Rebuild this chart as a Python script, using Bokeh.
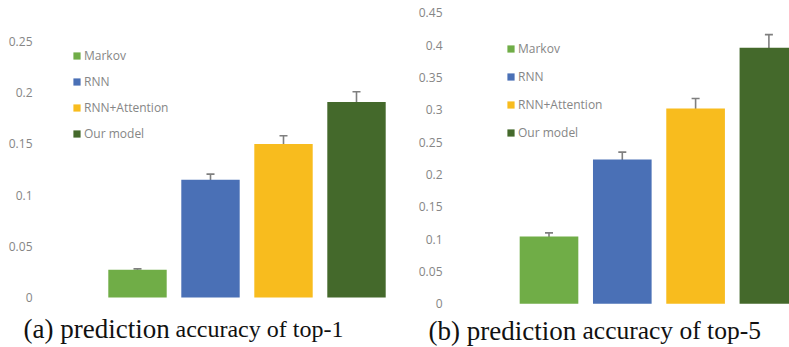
from bokeh.plotting import figure
from bokeh.models import ColumnDataSource, Range1d, Whisker, TeeHead, Legend, LegendItem, Label, FixedTicker
from bokeh.layouts import row, column
from bokeh.embed import file_html
from bokeh.resources import INLINE

models = ["Markov", "RNN", "RNN+Attention", "Our model"]
colors = ["#70AD47", "#4A70B6", "#F8BC1E", "#44692B"]

top1_values = [0.027, 0.115, 0.150, 0.191]
top1_errors = [0.001, 0.0055, 0.008, 0.010]
top1_ticks = [0, 0.05, 0.1, 0.15, 0.2, 0.25]

top5_values = [0.104, 0.223, 0.302, 0.396]
top5_errors = [0.0057, 0.0116, 0.0155, 0.0203]
top5_ticks = [0, 0.05, 0.1, 0.15, 0.2, 0.25, 0.3, 0.35, 0.4, 0.45]

caption_a = ["(a) prediction", "accuracy of top-1"]
caption_b = ["(b) prediction", "accuracy of top-5"]

GRAY = "#868686"
H = 312        # chart panel height
HC = 347 - H   # caption strip height


def make_panel(values, errors, ticks, width, border_left, std,
               x0_px, unit_px, zero_px, y_unit_px, legend_px, legend_spacing):
    frame_w = width - border_left
    x_start = -(x0_px - border_left) / unit_px
    x_end = x_start + frame_w / unit_px
    y_end = zero_px / y_unit_px
    y_start = -(H - zero_px) / y_unit_px

    xs = list(range(len(models)))
    src = ColumnDataSource(dict(
        x=xs, top=values,
        lower=[v - e for v, e in zip(values, errors)],
        upper=[v + e for v, e in zip(values, errors)],
    ))
    p = figure(width=width, height=H, output_backend="svg", toolbar_location=None,
               x_range=Range1d(x_start, x_end), y_range=Range1d(y_start, y_end),
               min_border_left=border_left, min_border_right=0,
               min_border_top=0, min_border_bottom=0)
    p.outline_line_color = None
    p.xgrid.visible = False
    p.ygrid.visible = False
    p.xaxis.visible = False
    ax = p.yaxis[0]
    ax.ticker = FixedTicker(ticks=ticks)
    ax.axis_line_color = None
    ax.major_tick_line_color = None
    ax.minor_tick_line_color = None
    ax.major_tick_out = 0
    ax.major_tick_in = 0
    ax.minor_tick_out = 0
    ax.major_label_standoff = std
    ax.major_label_text_font = "Open Sans"
    ax.major_label_text_font_size = "12px"
    ax.major_label_text_color = GRAY

    items = []
    for i in xs:
        sub = ColumnDataSource(dict(x=[xs[i]], top=[values[i]]))
        r = p.vbar(x="x", top="top", width=0.8, bottom=0, source=sub,
                   fill_color=colors[i], line_color=None)
        items.append(LegendItem(label=models[i], renderers=[r]))

    w = Whisker(base="x", lower="lower", upper="upper", source=src,
                line_color="#7F7F7F", line_width=1.6,
                upper_head=TeeHead(size=8, line_color="#7F7F7F", line_width=1.6),
                lower_head=TeeHead(size=8, line_color="#7F7F7F", line_width=1.6))
    p.add_layout(w)

    n = len(models)
    leg_h = n * 20 + (n - 1) * legend_spacing
    lx = legend_px[0] - border_left
    ly = H - (legend_px[1] + leg_h)
    leg = Legend(items=items, location=(lx, ly), padding=0, margin=0,
                 spacing=legend_spacing, glyph_width=9, glyph_height=9,
                 label_height=20, label_standoff=3,
                 label_text_font="Open Sans", label_text_font_size="12px",
                 label_text_color=GRAY, border_line_color=None,
                 background_fill_alpha=0)
    p.add_layout(leg)
    return p


def make_caption(texts, width, specs):
    c = figure(width=width, height=HC, output_backend="svg", toolbar_location=None,
               x_range=Range1d(0, width), y_range=Range1d(0, HC),
               min_border=0)
    c.outline_line_color = None
    c.axis.visible = False
    c.grid.visible = False
    for txt, (px, base_from_bottom, size) in zip(texts, specs):
        c.add_layout(Label(x=px, y=base_from_bottom, text=txt,
                           text_font="Liberation Serif", text_font_size=size,
                           text_color="#111111", text_baseline="alphabetic",
                           text_align="left"))
    return c


p1 = make_panel(top1_values, top1_errors, top1_ticks, 400, 38, 6,
                137, 73.0, 297, 1024.0, (72, 45.7), 6)
p2 = make_panel(top5_values, top5_errors, top5_ticks, 389, 46, 4,
                148.5, 73.3, 303.3, 646.7, (106, 38.7), 8)
c1 = make_caption(caption_a, 400, [(23, 18.3, "27px"), (175, 18.3, "24px")])
c2 = make_caption(caption_b, 389, [(28, 16.7, "27px"), (182, 16.7, "25.5px")])

layout = column(row(p1, p2), row(c1, c2), spacing=0)
open("out.html", "w").write(file_html(layout, INLINE))
